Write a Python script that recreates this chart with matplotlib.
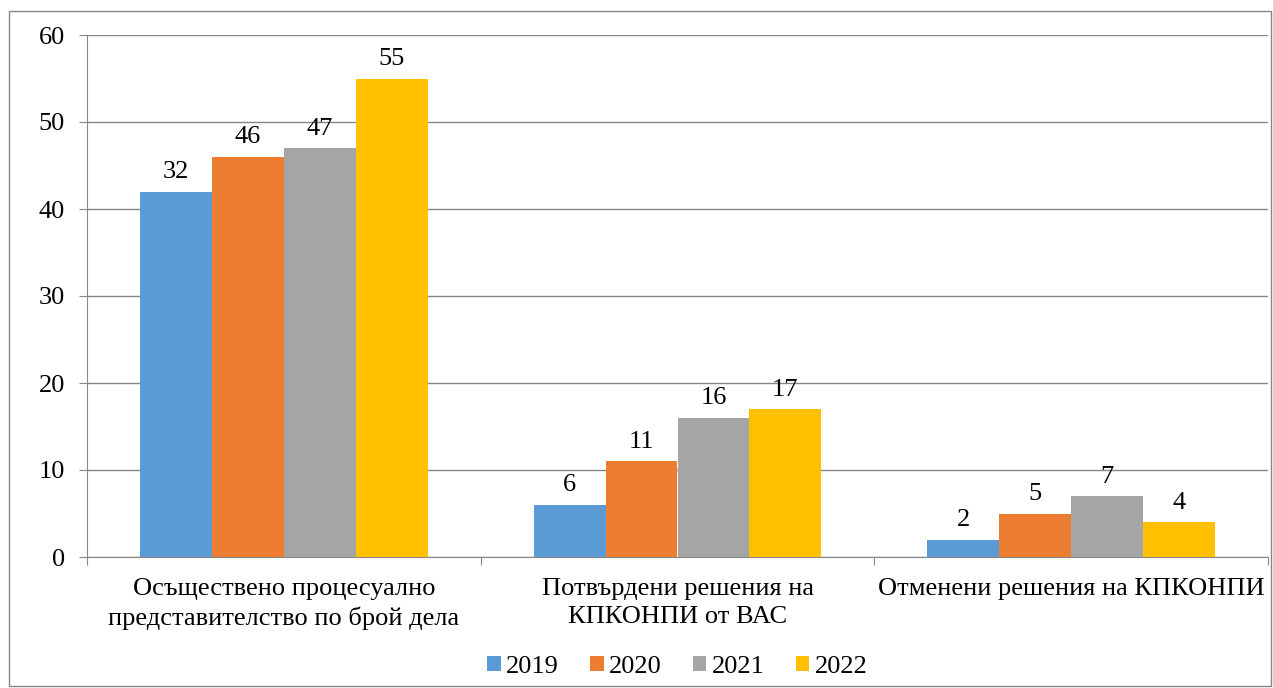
import numpy as np
import matplotlib.pyplot as plt
from matplotlib.patches import Rectangle

plt.rcParams['font.family'] = ['Liberation Serif', 'DejaVu Serif']

categories = ["Осъществено процесуално\nпредставителство по брой дела",
              "Потвърдени решения на\nКПКОНПИ от ВАС",
              "Отменени решения на КПКОНПИ"]
years = ["2019", "2020", "2021", "2022"]
values = {
    "2019": [42, 6, 2],
    "2020": [46, 11, 5],
    "2021": [47, 16, 7],
    "2022": [55, 17, 4],
}
# labels as printed in the source (first label differs from bar height)
labels = {
    "2019": ["32", "6", "2"],
    "2020": ["46", "11", "5"],
    "2021": ["47", "16", "7"],
    "2022": ["55", "17", "4"],
}
colors = ["#5B9BD5", "#ED7D31", "#A5A5A5", "#FFC000"]
fs = 19

fig = plt.figure(figsize=(12.73, 6.88), dpi=100)
fig.patches.append(Rectangle((9 / 1273, 2 / 688), 1262 / 1273, 675 / 688,
                             transform=fig.transFigure, fill=False,
                             edgecolor="#868686", lw=1))
ax = fig.add_axes([87 / 1273, 131 / 688, 1181 / 1273, 522 / 688])

x = np.arange(len(categories))
width = 0.73 / 4
for i, yr in enumerate(years):
    pos = x - 0.365 + width * (i + 0.5)
    bars = ax.bar(pos, values[yr], width, color=colors[i], label=yr, zorder=3)
    for b, lab in zip(bars, labels[yr]):
        ax.annotate(lab, (b.get_x() + b.get_width() / 2, b.get_height()),
                    xytext=(0, 6), textcoords="offset points",
                    ha="center", va="bottom", fontsize=fs, zorder=4)

ax.set_xlim(-0.5, 2.5)
ax.set_ylim(0, 60)
ax.set_yticks(np.arange(0, 61, 10))
ax.yaxis.grid(True, color="#868686", lw=1, zorder=0)
ax.set_axisbelow(True)
for s in ["top", "right"]:
    ax.spines[s].set_visible(False)
for s in ["left", "bottom"]:
    ax.spines[s].set_color("#868686")
ax.tick_params(axis="y", length=6, color="#868686", labelsize=fs, pad=10)
ax.set_xticks([-0.5, 0.5, 1.5, 2.5])
ax.set_xticklabels([])
ax.tick_params(axis="x", length=6, color="#868686")
for xi, cat in zip(x, categories):
    ax.text(xi, -2.4, cat, ha="center", va="top", fontsize=fs,
            linespacing=1.38, transform=ax.transData)

ax.legend(loc="center", bbox_to_anchor=(0.5, -0.21), ncol=4,
          frameon=False, fontsize=fs, handlelength=0.5, handleheight=0.5,
          handletextpad=0.2, columnspacing=1.2)

fig.savefig("out.png", dpi=100)
